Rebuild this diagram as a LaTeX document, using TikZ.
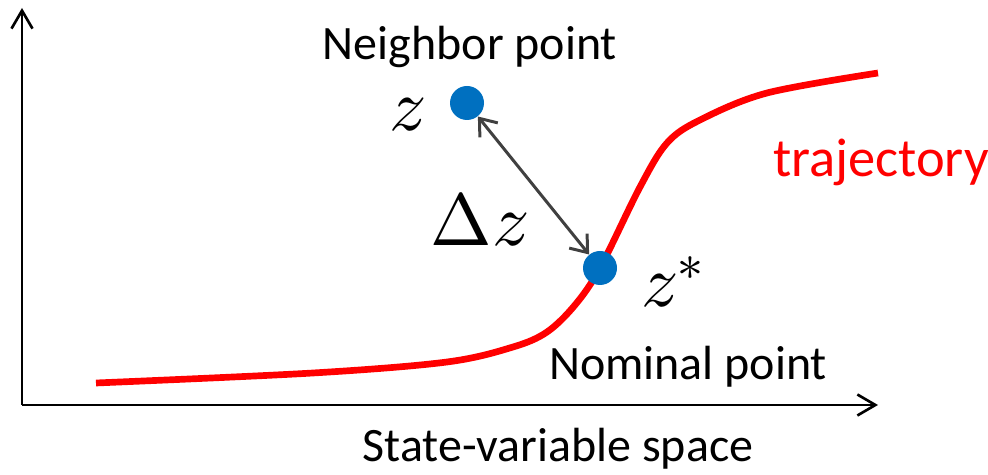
\documentclass[tikz,border=0pt]{standalone}
\usepackage{fontspec}
\usepackage{unicode-math}
\setmainfont{Carlito}
\setmathfont{Latin Modern Math}
\usetikzlibrary{arrows.meta}

\definecolor{dotblue}{HTML}{0070C0}
\definecolor{trajred}{HTML}{FF0000}
\definecolor{linkgray}{HTML}{404040}

\begin{document}
\begin{tikzpicture}[
    axis/.style={line width=1.5pt, -{Straight Barb[length=0.36cm, width=0.42cm]}},
    point/.style={circle, fill=dotblue, minimum size=0.68cm, inner sep=0pt},
    link/.style={linkgray, line width=1.7pt, {Straight Barb[length=0.3cm, width=0.46cm]}-{Straight Barb[length=0.3cm, width=0.46cm]}},
    txt/.style={font=\fontsize{27.3}{32}\selectfont},
    bigtxt/.style={font=\fontsize{31}{36}\selectfont},
    sym/.style={font=\fontsize{42}{50}\selectfont}
]

\useasboundingbox (0,0) rectangle (19.76,9.5);

% -------------------------
% Axes
% -------------------------
\coordinate (O) at (0.44, 1.40);
\coordinate (Ytop) at (0.44, 9.34);
\coordinate (Xend) at (17.56, 1.40);
\draw[axis] (O) -- (Ytop);
\draw[axis] (O) -- (Xend);

% -------------------------
% Trajectory
% -------------------------
\draw[trajred, line width=3.8pt] plot[smooth, tension=0.55] coordinates {
    (1.92, 1.84) (6.26, 2.04) (8.94, 2.26) (10.26, 2.56) (10.94, 2.86)
    (11.5, 3.4) (12.0, 4.14) (12.8, 5.76) (13.34, 6.64) (14.0, 7.1)
    (15.34, 7.64) (17.56, 8.04)};

% -------------------------
% Points
% -------------------------
\node[point] (nbr) at (9.34, 7.44) {};
\node[point] (nom) at (12.0, 4.14) {};
\draw[link] (nbr) -- (nom);

% -------------------------
% Labels
% -------------------------
\node[txt] (nbrLabel) at (9.4, 8.56) {Neighbor point};
\node[txt, anchor=base] (nomLabel) at (13.76, 1.9) {Nominal point};
\node[bigtxt, text=trajred, anchor=base] (trajLabel) at (17.62, 5.96) {trajectory};
\node[txt, anchor=base] (spaceLabel) at (11.16, 0.26) {State-variable space};

\node[sym] (zLabel) at (8.16, 7.2) {$z$};
\node[sym] (dzLabel) at (9.6, 5.12) {$\Delta z$};
\node[sym, anchor=base west] (zsLabel) at (12.7, 3.36) {$z^*$};

\end{tikzpicture}
\end{document}
